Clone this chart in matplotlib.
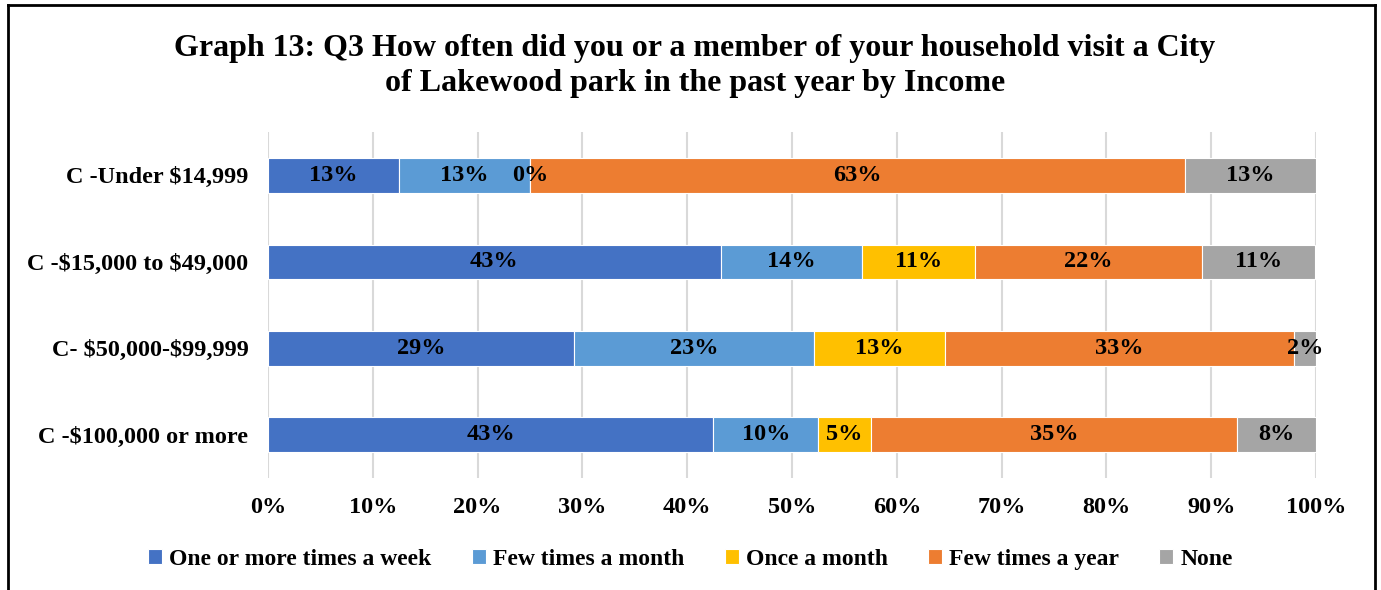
import matplotlib.pyplot as plt
from matplotlib.lines import Line2D
import numpy as np

plt.rcParams['font.family'] = ['Liberation Serif', 'DejaVu Serif']
plt.rcParams['font.weight'] = 'bold'

categories = ['C -Under \\$14,999', 'C -\\$15,000 to \\$49,000',
              'C- \\$50,000-\\$99,999', 'C -\\$100,000 or more']
series = ['One or more times a week', 'Few times a month', 'Once a month',
          'Few times a year', 'None']
colors = ['#4472C4', '#5B9BD5', '#FFC000', '#ED7D31', '#A5A5A5']

# percentages per income group (rows) and answer (columns)
values = np.array([
    [12.5, 12.5, 0.0, 62.5, 12.5],
    [43.2, 13.5, 10.8, 21.6, 10.8],
    [29.2, 22.9, 12.5, 33.3, 2.1],
    [42.5, 10.0, 5.0, 35.0, 7.5],
])

fig = plt.figure(figsize=(13.81, 5.90), dpi=100)
ax = fig.add_axes([0.194, 0.19, 0.759, 0.586])

y = np.arange(len(categories))
left = np.zeros(len(categories))
for j, name in enumerate(series):
    bars = ax.barh(y, values[:, j], left=left, height=0.4, color=colors[j],
                   edgecolor='white', linewidth=0.8, label=name, zorder=3)
    for i, b in enumerate(bars):
        pct = int(np.floor(values[i, j] + 0.5))
        ax.text(left[i] + values[i, j] / 2, y[i], f'{pct}%',
                ha='center', va='center', fontsize=17.5, fontweight='bold',
                color='black', zorder=4)
    left += values[:, j]

ax.set_xlim(0, 100)
ax.set_ylim(len(categories) - 0.5, -0.5)
ax.set_xticks(np.arange(0, 101, 10))
ax.set_xticklabels([f'{t}%' for t in range(0, 101, 10)], fontsize=17.5)
ax.set_yticks(y)
ax.set_yticklabels(categories, fontsize=17.5)
ax.tick_params(length=0)
ax.tick_params(axis='x', pad=14)
ax.tick_params(axis='y', pad=14)
ax.grid(axis='x', color='#D9D9D9', linewidth=1.5, zorder=0)
for s in ax.spines.values():
    s.set_visible(False)

fig.suptitle('Graph 13: Q3 How often did you or a member of your household visit a City\n'
             'of Lakewood park in the past year by Income',
             x=0.503, y=0.943, fontsize=23, fontweight='bold', linespacing=1.3)

fig.legend(loc='center', bbox_to_anchor=(0.5, 0.052), ncol=5, frameon=False,
           fontsize=17, handlelength=0.6, handleheight=0.6, handletextpad=0.3,
           columnspacing=1.7)

# outer frame
fig.add_artist(Line2D([8 / 1381, 8 / 1381], [0, 1 - 5 / 590], color='black', lw=2))
fig.add_artist(Line2D([1375 / 1381, 1375 / 1381], [0, 1 - 5 / 590], color='black', lw=2))
fig.add_artist(Line2D([8 / 1381, 1375 / 1381], [1 - 5 / 590, 1 - 5 / 590], color='black', lw=2))

fig.savefig('out.png', dpi=100)
